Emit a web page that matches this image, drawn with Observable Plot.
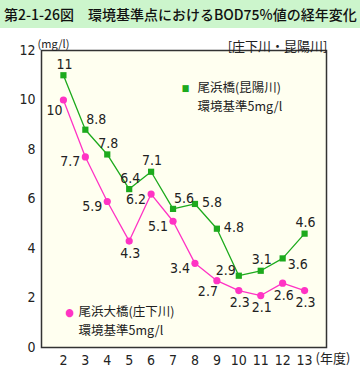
<!DOCTYPE html>
<html><head><meta charset="utf-8">
<script src="https://cdn.jsdelivr.net/npm/d3@7"></script>
<script src="https://cdn.jsdelivr.net/npm/@observablehq/plot@0.6"></script>
<style>
html,body{margin:0;padding:0;background:#fff;}
#title{height:28px;background:#ccf5cc;font-family:"Noto Sans CJK JP",sans-serif;font-size:14px;font-weight:500;line-height:28px;padding-left:4px;white-space:nowrap;overflow:hidden;color:#111}
#chart svg{display:block}
</style></head>
<body>
<div id="title">第2-1-26図　環境基準点におけるBOD75%値の経年変化</div>
<div id="chart"></div>
<script>
const years = [2,3,4,5,6,7,8,9,10,11,12,13];
const obamaBashi = [11,8.8,7.8,6.4,7.1,5.6,5.8,4.8,2.9,3.1,3.6,4.6];      // 尾浜橋(昆陽川)
const obamaOhashi = [10,7.7,5.9,4.3,6.2,5.1,3.4,2.7,2.3,2.1,2.6,2.3];     // 尾浜大橋(庄下川)
const yTicks = [0,2,4,6,8,10,12];
const greenName = ["尾浜橋(昆陽川)", "環境基準5mg/l"];
const pinkName = ["尾浜大橋(庄下川)", "環境基準5mg/l"];
// label placement codes (style, not data)
const greenPlace = ["N","NE","N","N","N","NE","E","E","NW","N","SE","N"];
const pinkPlace  = ["SW","W","W","S","W","W","W","SW","S","S","S","S"];
const offsets = {N:[1,-11],NE:[11,-10],E:[17,-1],SE:[15,6],NW:[-13,-5],W:[-15,5],SW:[-9,11],S:[1,12]};

const green = "#1daa1d", pink = "#ff33c4";
const fmt = v => String(v);
const G = years.map((x,i)=>({x, y: obamaBashi[i], p: greenPlace[i]}));
const P = years.map((x,i)=>({x, y: obamaOhashi[i], p: pinkPlace[i]}));
const numFont = "'Liberation Sans Narrow','DejaVu Sans Condensed','Liberation Sans',sans-serif";
const jpFont = "'Noto Sans CJK JP',sans-serif";

function labels(data) {
  return Object.entries(offsets).map(([k,[dx,dy]]) =>
    Plot.text(data.filter(d=>d.p===k), {x:"x", y:"y", text: d=>fmt(d.y), dx, dy,
      fontSize: 14, fontFamily: numFont, fill: "#222", letterSpacing: "1.5px"}));
}
function legend(names, dx, dy) {
  return names.map((t,i) => Plot.text([t], {frameAnchor:"top-left", dx, dy: dy - 1 + i*18.5,
    textAnchor:"start", fontFamily: jpFont, fontSize: 12.5, fill:"#222"}));
}

const plot = Plot.plot({
  width: 360, height: 345,
  marginTop: 22, marginBottom: 26, marginLeft: 41, marginRight: 34,
  style: {fontFamily: numFont, fontSize: "14px", color: "#222", background: "transparent"},
  x: {domain: [1,14]},
  y: {domain: [0,12]},
  marks: [
    Plot.frame({fill: "#fffff0", stroke: "#333", strokeWidth: 1.5}),
    Plot.axisX({ticks: years, tickSize: 0, tickPadding: 8, label: null, fontSize: 14}),
    Plot.axisY({ticks: yTicks, tickSize: 0, tickPadding: 6, label: null, fontSize: 14}),
    Plot.line(P, {x:"x", y:"y", stroke: pink, strokeWidth: 1.3}),
    Plot.line(G, {x:"x", y:"y", stroke: green, strokeWidth: 1.3}),
    Plot.dot(P, {x:"x", y:"y", r: 3.6, fill: pink, symbol: "circle"}),
    Plot.dot(G, {x:"x", y:"y", r: 3.5, fill: green, symbol: "square"}),
    ...labels(G),
    ...labels(P),
    // legends
    Plot.text(["■"], {frameAnchor:"top-left", dx:144, dy:34, fill: green, fontSize: 9, textAnchor:"middle"}),
    ...legend(greenName, 156, 34),
    Plot.text(["●"], {frameAnchor:"top-left", dx:28, dy:258, fill: pink, fontSize: 11, textAnchor:"middle"}),
    ...legend(pinkName, 37, 258),
    // units & captions
    Plot.text(["(mg/l)"], {frameAnchor:"top-left", dx:-4, dy:-10, textAnchor:"start", fontFamily: jpFont, fontSize: 11, fill:"#222"}),
    Plot.text(["[庄下川・昆陽川]"], {frameAnchor:"top-right", dx:1, dy:-9, textAnchor:"end", fontFamily: jpFont, fontSize: 13, fill:"#222"}),
    Plot.text(["(年度)"], {frameAnchor:"bottom-right", dx:-11, dy:15, textAnchor:"start", fontFamily: jpFont, fontSize: 13, fill:"#222"})
  ]
});
document.getElementById("chart").appendChild(plot);
</script>
</body></html>
